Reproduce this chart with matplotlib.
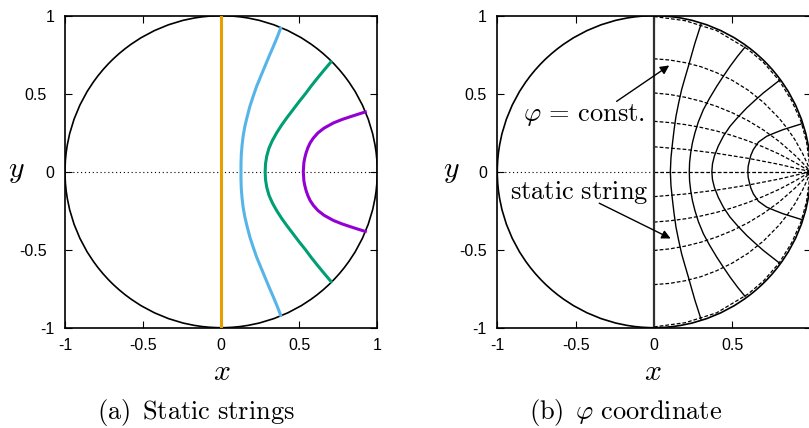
"""Static strings in the unit disk and the phi coordinate grid"""
import matplotlib
matplotlib.use("Agg")
import matplotlib.pyplot as plt
from matplotlib.patches import Circle
from matplotlib.transforms import ScaledTranslation

plt.rcParams['mathtext.fontset'] = 'cm'
plt.rcParams['font.family'] = ['Liberation Sans', 'DejaVu Sans']

# ---- panel (a): static strings (top -> bottom) ----
orange_x = [0.0, 0.0]
orange_y = [1.0, -1.0]

blue_x = [0.381, 0.358, 0.333, 0.307, 0.280, 0.253, 0.227, 0.204, 0.184, 0.166,
          0.152, 0.141, 0.134, 0.129, 0.127, 0.127,
          0.127, 0.129, 0.134, 0.141, 0.152, 0.166, 0.184, 0.204, 0.227,
          0.253, 0.280, 0.307, 0.333, 0.358, 0.381]
blue_y = [0.920, 0.860, 0.800, 0.740, 0.675, 0.610, 0.547, 0.480, 0.419, 0.350,
          0.291, 0.230, 0.170, 0.110, 0.050, 0.0,
          -0.050, -0.110, -0.170, -0.230, -0.291, -0.350, -0.419, -0.480, -0.547,
          -0.610, -0.675, -0.740, -0.800, -0.860, -0.920]

green_x = [0.703, 0.658, 0.617, 0.577, 0.540, 0.500, 0.462, 0.424, 0.388, 0.356,
           0.328, 0.306, 0.292, 0.284, 0.282,
           0.284, 0.292, 0.306, 0.328, 0.356, 0.388, 0.424, 0.462, 0.500,
           0.540, 0.577, 0.617, 0.658, 0.703]
green_y = [0.703, 0.650, 0.600, 0.550, 0.500, 0.450, 0.400, 0.350, 0.300, 0.250,
           0.200, 0.150, 0.100, 0.050, 0.0,
           -0.050, -0.100, -0.150, -0.200, -0.250, -0.300, -0.350, -0.400, -0.450,
           -0.500, -0.550, -0.600, -0.650, -0.703]

purple_x = [0.923, 0.885, 0.835, 0.775, 0.720, 0.660, 0.620, 0.590, 0.570, 0.556,
            0.544, 0.536, 0.530, 0.526,
            0.530, 0.536, 0.544, 0.556, 0.570, 0.590, 0.620, 0.660, 0.720,
            0.775, 0.835, 0.885, 0.923]
purple_y = [0.383, 0.371, 0.355, 0.335, 0.313, 0.280, 0.249, 0.215, 0.185, 0.155,
            0.121, 0.090, 0.060, 0.0,
            -0.060, -0.090, -0.121, -0.155, -0.185, -0.215, -0.249, -0.280, -0.313,
            -0.335, -0.355, -0.371, -0.383]

# ---- panel (b): static strings (solid) ----
s0_x = [0.0, 0.0]
s0_y = [1.0, -1.0]
s1_x = [0.301, 0.280, 0.262, 0.241, 0.220, 0.198, 0.177, 0.158, 0.141, 0.129,
        0.119, 0.109, 0.105,
        0.109, 0.119, 0.129, 0.141, 0.158, 0.177, 0.198, 0.220, 0.241,
        0.262, 0.280, 0.301]
s1_y = [0.946, 0.880, 0.824, 0.750, 0.675, 0.600, 0.526, 0.440, 0.355, 0.270,
        0.185, 0.090, 0.0,
        -0.090, -0.185, -0.270, -0.355, -0.440, -0.526, -0.600, -0.675, -0.750,
        -0.824, -0.880, -0.946]
s2_x = [0.582, 0.534, 0.486, 0.442, 0.401, 0.355, 0.316, 0.284, 0.262, 0.246,
        0.235, 0.228, 0.226,
        0.228, 0.235, 0.246, 0.262, 0.284, 0.316, 0.355, 0.401, 0.442,
        0.486, 0.534, 0.582]
s2_y = [0.799, 0.740, 0.675, 0.610, 0.547, 0.470, 0.398, 0.320, 0.249, 0.185,
        0.121, 0.060, 0.0,
        -0.060, -0.121, -0.185, -0.249, -0.320, -0.398, -0.470, -0.547, -0.610,
        -0.675, -0.740, -0.799]
s3_x = [0.801, 0.750, 0.699, 0.645, 0.593, 0.537, 0.486, 0.445, 0.411, 0.386,
        0.374, 0.370,
        0.374, 0.386, 0.411, 0.445, 0.486, 0.537, 0.593, 0.645, 0.699,
        0.750, 0.801]
s3_y = [0.585, 0.545, 0.505, 0.457, 0.409, 0.350, 0.291, 0.230, 0.164, 0.100,
        0.050, 0.0,
        -0.050, -0.100, -0.164, -0.230, -0.291, -0.350, -0.409, -0.457, -0.505,
        -0.545, -0.585]
s4_x = [0.944, 0.826, 0.775, 0.720, 0.668, 0.635, 0.619, 0.610, 0.602, 0.600,
        0.602, 0.610, 0.619, 0.635, 0.668, 0.720, 0.775, 0.826, 0.944]
s4_y = [0.307, 0.270, 0.250, 0.227, 0.190, 0.142, 0.105, 0.070, 0.035, 0.0,
        -0.035, -0.070, -0.105, -0.142, -0.190, -0.227, -0.250, -0.270, -0.307]

# ---- panel (b): phi = const. lines (dashed), from x=0 to the point (1, 0) ----
phi0_x = [0.0, 0.200, 0.400, 0.600, 0.700, 0.800, 0.880, 0.940, 0.975, 1.0]
phi0_y = [0.995, 0.968, 0.905, 0.785, 0.700, 0.585, 0.455, 0.320, 0.190, 0.0]
phi1_x = [0.0, 0.1, 0.2, 0.3, 0.4, 0.5, 0.6, 0.7, 0.8, 0.85, 0.9, 0.95, 0.98, 1.0]
phi1_y = [0.724, 0.716, 0.699, 0.673, 0.635, 0.586, 0.524, 0.444, 0.342, 0.279,
          0.206, 0.116, 0.051, 0.0]
phi2_x = [0.0, 0.1, 0.2, 0.3, 0.4, 0.5, 0.6, 0.7, 0.8, 0.9, 0.95, 1.0]
phi2_y = [0.505, 0.495, 0.477, 0.452, 0.419, 0.378, 0.328, 0.267, 0.194, 0.106,
          0.056, 0.0]
phi3_x = [0.0, 0.1, 0.2, 0.3, 0.4, 0.5, 0.6, 0.7, 0.8, 0.9, 1.0]
phi3_y = [0.323, 0.315, 0.302, 0.284, 0.261, 0.232, 0.198, 0.158, 0.113, 0.060, 0.0]
phi4_x = [0.0, 0.2, 0.4, 0.6, 0.8, 1.0]
phi4_y = [0.160, 0.143, 0.118, 0.086, 0.047, 0.0]
phi5_x = [0.0, 1.0]
phi5_y = [0.0, 0.0]
phi6_x = [0.0, 0.2, 0.4, 0.6, 0.8, 1.0]
phi6_y = [-0.160, -0.143, -0.118, -0.086, -0.047, 0.0]
phi7_x = [0.0, 0.1, 0.2, 0.3, 0.4, 0.5, 0.6, 0.7, 0.8, 0.9, 1.0]
phi7_y = [-0.323, -0.315, -0.302, -0.284, -0.261, -0.232, -0.198, -0.158, -0.113,
          -0.060, 0.0]
phi8_x = [0.0, 0.1, 0.2, 0.3, 0.4, 0.5, 0.6, 0.7, 0.8, 0.9, 0.95, 1.0]
phi8_y = [-0.505, -0.495, -0.477, -0.452, -0.419, -0.378, -0.328, -0.267, -0.194,
          -0.106, -0.056, 0.0]
phi9_x = [0.0, 0.1, 0.2, 0.3, 0.4, 0.5, 0.6, 0.7, 0.8, 0.85, 0.9, 0.95, 0.98, 1.0]
phi9_y = [-0.724, -0.716, -0.699, -0.673, -0.635, -0.586, -0.524, -0.444, -0.342,
          -0.279, -0.206, -0.116, -0.051, 0.0]
phi10_x = [0.0, 0.200, 0.400, 0.600, 0.700, 0.800, 0.880, 0.940, 0.975, 1.0]
phi10_y = [-0.995, -0.968, -0.905, -0.785, -0.700, -0.585, -0.455, -0.320, -0.190, 0.0]

ticks = [-1, -0.5, 0, 0.5, 1]
tick_labels = ['-1', '-0.5', '0', '0.5', '1']
tick_labels_bx = ['-1', '-0.5', '0', '0.5', '']   # the "1" falls outside the picture

W, H = 809, 428
fig = plt.figure(figsize=(W / 100, H / 100), dpi=100)


def setup_axes(ax, xlabels):
    ax.set_xlim(-1, 1)
    ax.set_ylim(-1, 1)
    ax.set_xticks(ticks)
    ax.set_yticks(ticks)
    ax.set_xticklabels(xlabels)
    ax.set_yticklabels(tick_labels)
    ax.tick_params(direction='in', length=5, width=0.8, top=True, right=True,
                   labelsize=11.5, pad=7.5)
    for sp in ax.spines.values():
        sp.set_linewidth(1.2)
    ax.add_patch(Circle((0, 0), 1, fill=False, ec='black', lw=1.2, zorder=3))


bottom = (H - 327.7) / H
height = 312 / H
axL = fig.add_axes([65 / W, bottom, 312.3 / W, height])
axR = fig.add_axes([497.3 / W, bottom, 313.2 / W, height])

# (a) static strings
setup_axes(axL, tick_labels)
axL.plot([-1, 1], [0, 0], color='black', lw=0.8, ls=(0, (1, 2.5)))
axL.plot(orange_x, orange_y, color='#E69F00', lw=2.2, zorder=4)
axL.plot(blue_x, blue_y, color='#56B4E9', lw=2.2, zorder=4)
axL.plot(green_x, green_y, color='#009E73', lw=2.2, zorder=4)
axL.plot(purple_x, purple_y, color='#9400D3', lw=2.2, zorder=4)

# the +-0.5 labels of the left panel sit a bit further out in the original
shift = ScaledTranslation(-8 / 100, 0, fig.dpi_scale_trans)
for lab in axL.get_yticklabels():
    if '.5' in lab.get_text():
        lab.set_transform(lab.get_transform() + shift)

# (b) phi coordinate
setup_axes(axR, tick_labels_bx)
axR.plot([-1, 0], [0, 0], color='black', lw=0.8, ls=(0, (1, 2.5)))
for px, py in [(phi0_x, phi0_y), (phi1_x, phi1_y), (phi2_x, phi2_y),
               (phi3_x, phi3_y), (phi4_x, phi4_y), (phi5_x, phi5_y),
               (phi6_x, phi6_y), (phi7_x, phi7_y), (phi8_x, phi8_y),
               (phi9_x, phi9_y), (phi10_x, phi10_y)]:
    axR.plot(px, py, color='black', lw=0.9, ls=(0, (3, 1.6)))
axR.plot(s0_x, s0_y, color='#303030', lw=1.6)
for sx, sy in [(s1_x, s1_y), (s2_x, s2_y), (s3_x, s3_y), (s4_x, s4_y)]:
    axR.plot(sx, sy, color='black', lw=1.0)
axR.plot([1], [0], 'o', mfc='none', mec='black', ms=5, mew=1.0)

axR.annotate('', xy=(0.098, 0.681), xytext=(-0.238, 0.451),
             arrowprops=dict(arrowstyle='-|>', color='black', lw=1.0,
                             mutation_scale=13, shrinkA=0, shrinkB=0))
axR.annotate('', xy=(0.107, -0.428), xytext=(-0.349, -0.202),
             arrowprops=dict(arrowstyle='-|>', color='black', lw=1.0,
                             mutation_scale=13, shrinkA=0, shrinkB=0))
axR.text(-0.836, 0.323, r'$\varphi\, = \,\mathrm{const.}$', fontsize=19,
         ha='left', va='baseline')
axR.text(-0.919, -0.173, r'$\mathrm{static\ string}$', fontsize=19,
         ha='left', va='baseline')

# axis labels and captions
fig.text(222 / W, 1 - 371.7 / H, '$x$', fontsize=21.5, ha='center', va='center')
fig.text(16 / W, 1 - 171 / H, '$y$', fontsize=21.5, ha='center', va='center')
fig.text(653.3 / W, 1 - 371.7 / H, '$x$', fontsize=21.5, ha='center', va='center')
fig.text(451.7 / W, 1 - 171 / H, '$y$', fontsize=21.5, ha='center', va='center')

fig.text(195.8 / W, 1 - 419.5 / H, r'$\mathrm{(a)\ \,Static\ strings}$',
         fontsize=19, ha='center', va='baseline')
fig.text(625.5 / W, 1 - 419.5 / H, r'$\mathrm{(b)}\ \,\varphi\ \mathrm{coordinate}$',
         fontsize=19, ha='center', va='baseline')

fig.savefig('out.png', dpi=100)
